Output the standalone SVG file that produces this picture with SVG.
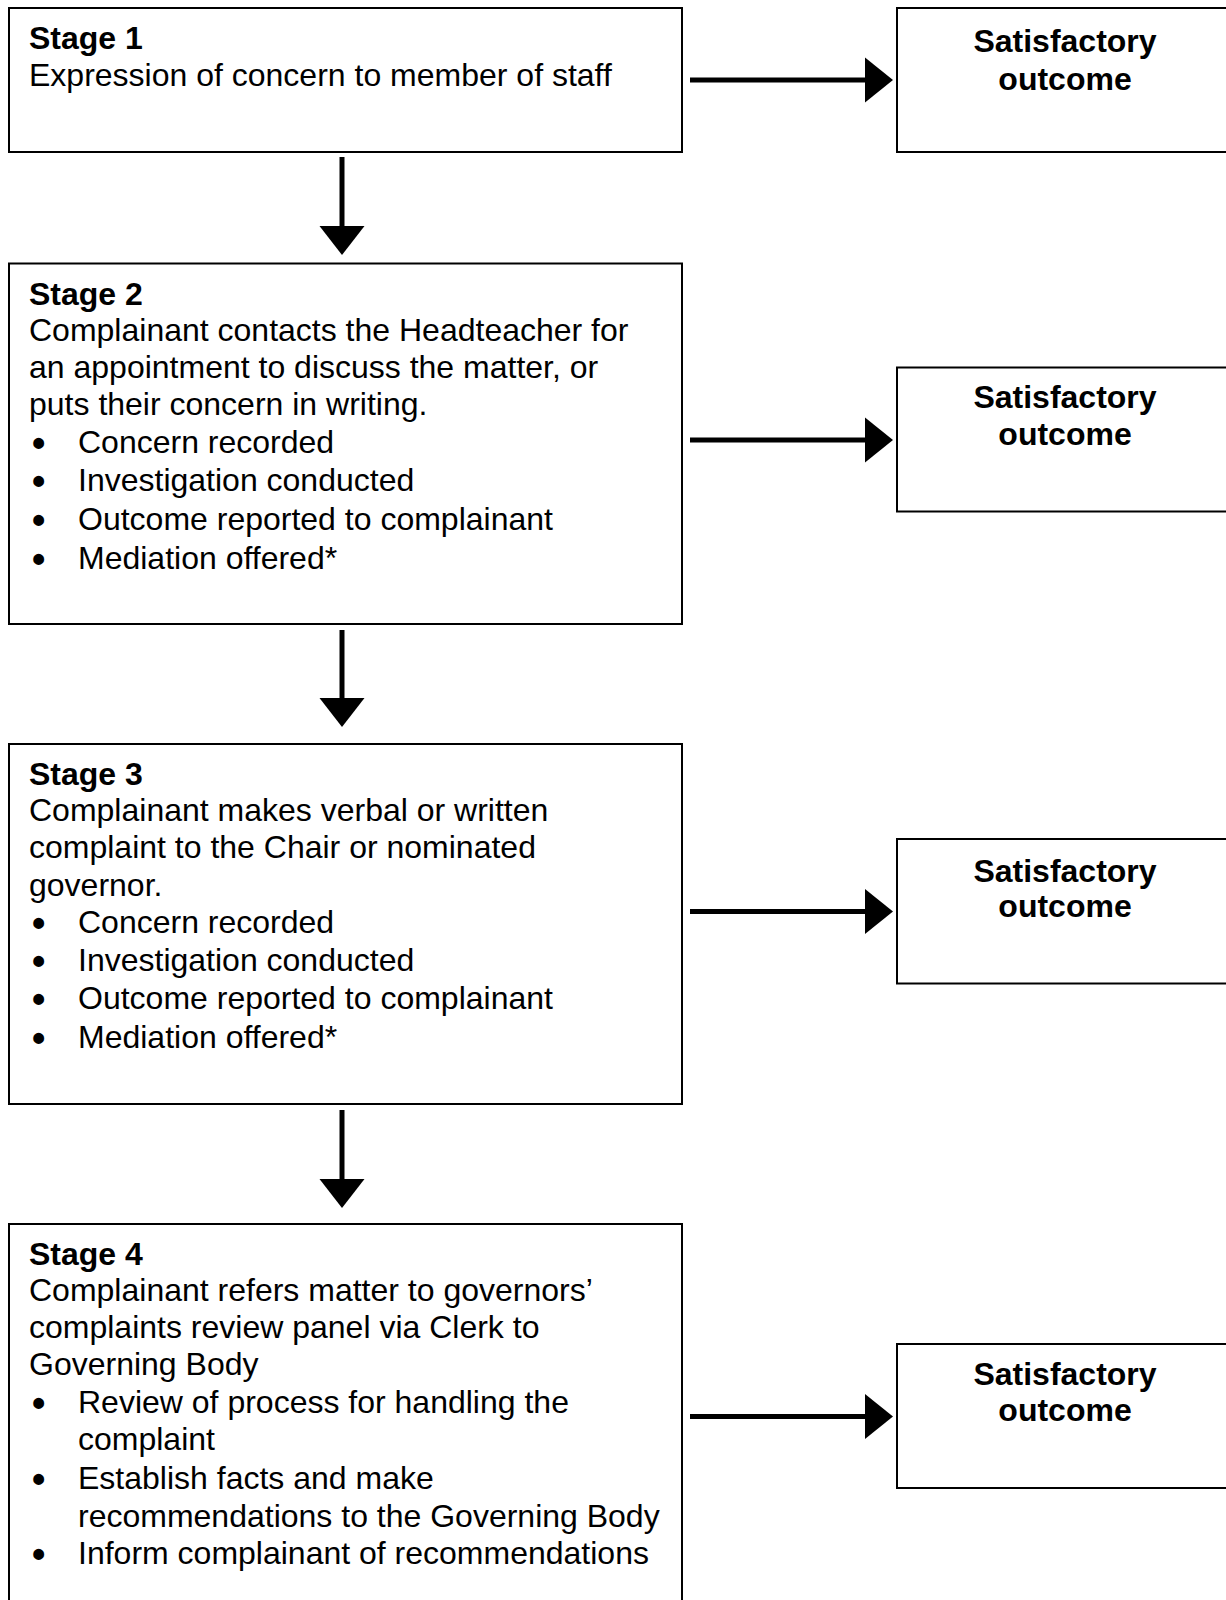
<svg xmlns="http://www.w3.org/2000/svg" width="1226" height="1600" viewBox="0 0 1226 1600">
<style>
.box{fill:#fff;stroke:#000;stroke-width:2}
text{font-family:"Liberation Sans",Arial,sans-serif;font-size:32px;fill:#000}
.h{font-weight:bold}
.c{font-weight:bold;text-anchor:middle}
.b{font-size:38px;font-weight:bold}
.ln{stroke:#000;stroke-width:5;fill:none}
.hd{fill:#000;stroke:none}
</style>
<rect width="1226" height="1600" fill="#fff"/>
<g id="stage1">
<rect class="box" x="9" y="8" width="673" height="144"/>
<text class="h" x="29" y="49">Stage 1</text>
<text x="29" y="86">Expression of concern to member of staff</text>
</g>
<g id="stage2">
<rect class="box" x="9" y="263.5" width="673" height="360.5"/>
<text class="h" x="29" y="305">Stage 2</text>
<text x="29" y="341">Complainant contacts the Headteacher for</text>
<text x="29" y="378">an appointment to discuss the matter, or</text>
<text x="29" y="415">puts their concern in writing.</text>
<text class="b" x="32" y="456">•</text><text x="78" y="453">Concern recorded</text>
<text class="b" x="32" y="494">•</text><text x="78" y="491">Investigation conducted</text>
<text class="b" x="32" y="533">•</text><text x="78" y="530">Outcome reported to complainant</text>
<text class="b" x="32" y="572">•</text><text x="78" y="569">Mediation offered*</text>
</g>
<g id="stage3">
<rect class="box" x="9" y="744" width="673" height="360"/>
<text class="h" x="29" y="785">Stage 3</text>
<text x="29" y="821">Complainant makes verbal or written</text>
<text x="29" y="858">complaint to the Chair or nominated</text>
<text x="29" y="896">governor.</text>
<text class="b" x="32" y="936">•</text><text x="78" y="933">Concern recorded</text>
<text class="b" x="32" y="974">•</text><text x="78" y="971">Investigation conducted</text>
<text class="b" x="32" y="1012">•</text><text x="78" y="1009">Outcome reported to complainant</text>
<text class="b" x="32" y="1051">•</text><text x="78" y="1048">Mediation offered*</text>
</g>
<g id="stage4">
<rect class="box" x="9" y="1224" width="673" height="400"/>
<text class="h" x="29" y="1265">Stage 4</text>
<text x="29" y="1301">Complainant refers matter to governors’</text>
<text x="29" y="1338">complaints review panel via Clerk to</text>
<text x="29" y="1375">Governing Body</text>
<text class="b" x="32" y="1416">•</text><text x="78" y="1413">Review of process for handling the</text>
<text x="78" y="1450">complaint</text>
<text class="b" x="32" y="1492">•</text><text x="78" y="1489">Establish facts and make</text>
<text x="78" y="1527">recommendations to the Governing Body</text>
<text class="b" x="32" y="1567">•</text><text x="78" y="1564">Inform complainant of recommendations</text>
</g>
<g id="outcome1">
<rect class="box" x="897" y="8" width="343" height="144"/>
<text class="c" x="1065" y="52">Satisfactory</text>
<text class="c" x="1065" y="90">outcome</text>
</g>
<g id="outcome2">
<rect class="box" x="897" y="367.5" width="343" height="144"/>
<text class="c" x="1065" y="408">Satisfactory</text>
<text class="c" x="1065" y="444.5">outcome</text>
</g>
<g id="outcome3">
<rect class="box" x="897" y="839" width="343" height="144.5"/>
<text class="c" x="1065" y="881.5">Satisfactory</text>
<text class="c" x="1065" y="917">outcome</text>
</g>
<g id="outcome4">
<rect class="box" x="897" y="1344" width="343" height="144"/>
<text class="c" x="1065" y="1385">Satisfactory</text>
<text class="c" x="1065" y="1421">outcome</text>
</g>
<g id="connectors">
<line class="ln" x1="342" y1="157" x2="342" y2="228"/>
<polygon class="hd" points="319.5,226 364.5,226 342,255"/>
<line class="ln" x1="342" y1="630" x2="342" y2="700"/>
<polygon class="hd" points="319.5,698 364.5,698 342,727"/>
<line class="ln" x1="342" y1="1110" x2="342" y2="1181"/>
<polygon class="hd" points="319.5,1179 364.5,1179 342,1208"/>
<line class="ln" x1="690" y1="80" x2="867" y2="80"/>
<polygon class="hd" points="865,57.5 865,102.5 893,80"/>
<line class="ln" x1="690" y1="440" x2="867" y2="440"/>
<polygon class="hd" points="865,417.5 865,462.5 893,440"/>
<line class="ln" x1="690" y1="911.5" x2="867" y2="911.5"/>
<polygon class="hd" points="865,889 865,934 893,911.5"/>
<line class="ln" x1="690" y1="1416.5" x2="867" y2="1416.5"/>
<polygon class="hd" points="865,1394 865,1439 893,1416.5"/>
</g>
</svg>
